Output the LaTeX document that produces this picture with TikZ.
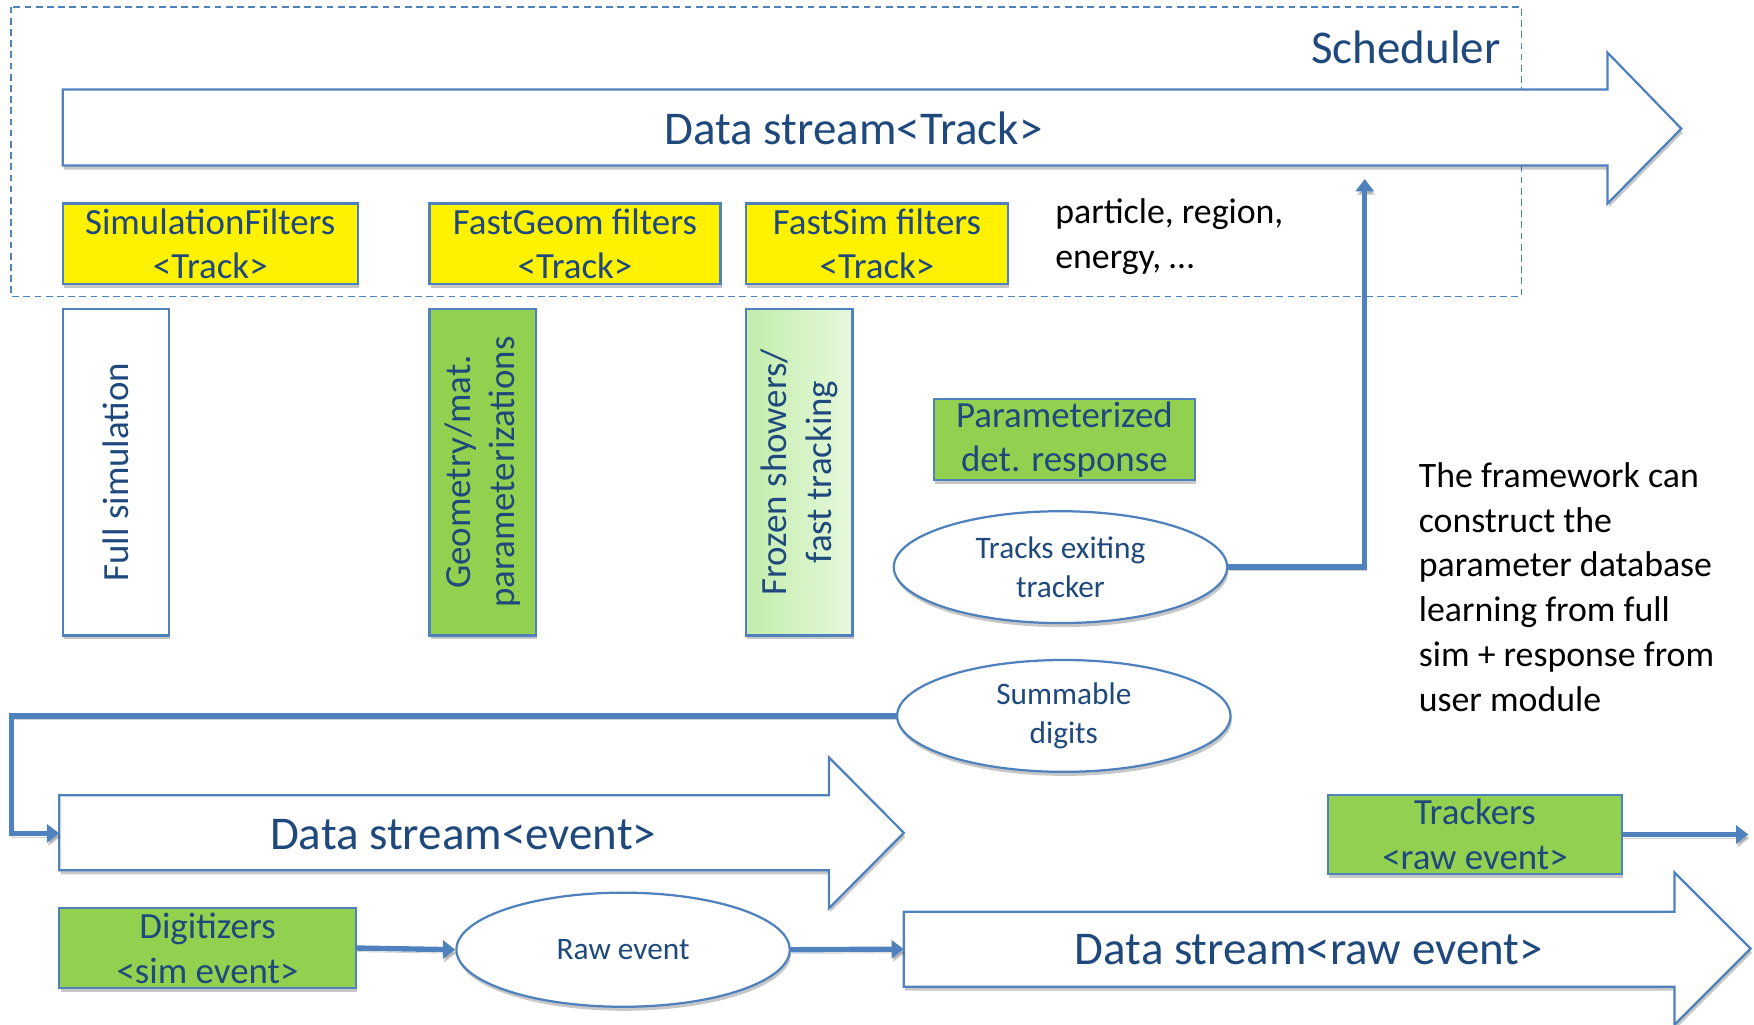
\documentclass[tikz,border=0pt]{standalone}
\usepackage{fontspec}
\setmainfont{Carlito}
\usetikzlibrary{arrows.meta,shapes.geometric,shadows}
\definecolor{edgeblue}{HTML}{4F81BD}
\definecolor{textblue}{HTML}{1F497D}
\definecolor{leafgreen}{HTML}{92D050}
\definecolor{paleleft}{HTML}{C2EDAB}
\definecolor{paleright}{HTML}{E6F8DC}
\tikzset{
  softshadow/.style={drop shadow={shadow xshift=0.6pt,shadow yshift=-1.8pt,opacity=0.22,fill=black}},
  boxbase/.style={draw=edgeblue,line width=1pt,text=textblue,align=center,inner sep=0pt,
    font=\fontsize{16.5}{20}\selectfont,softshadow},
  filterbox/.style={boxbase,fill=yellow,minimum height=36pt},
  greenbox/.style={boxbase,fill=leafgreen},
  tallbox/.style={boxbase,minimum width=47.5pt,minimum height=146pt},
  vlabel/.style={rotate=90,align=center,text=textblue,font=\fontsize{16.5}{20}\selectfont},
  oval/.style={ellipse,draw=edgeblue,line width=1pt,fill=white,text=textblue,align=center,
    inner sep=0pt,minimum width=149pt,minimum height=50pt,font=\fontsize{14}{17.5}\selectfont,softshadow},
  blockarrow/.style={draw=edgeblue,line width=1pt,fill=white,line join=miter,softshadow},
  streamlabel/.style={text=textblue,font=\fontsize{21}{25}\selectfont},
  plaintext/.style={align=left,anchor=north west,inner sep=0pt,font=\fontsize{16}{20}\selectfont},
  conn/.style={draw=edgeblue,line width=2.4pt,-{Triangle[width=8pt,length=5.5pt]},
    preaction={draw=black,opacity=0.18,transform canvas={xshift=0.6pt,yshift=-1.6pt}}}
}
\begin{document}
\begin{tikzpicture}[x=0.5pt,y=-0.5pt]
\useasboundingbox (0,0) rectangle (1568,916);

% scheduler frame
\draw[edgeblue,line width=0.75pt,dash pattern=on 3pt off 2pt] (10,6) rectangle (1360,265);
\node[streamlabel,anchor=east,inner sep=0pt] (sched) at (1342,42) {Scheduler};

% track stream
\draw[blockarrow] (56,80) -- (1437,80) -- (1437,47) -- (1503,115) -- (1437,182) -- (1437,148) -- (56,148) -- cycle;
\node[streamlabel] (trackstream) at (763,115) {Data stream<Track>};

% filters
\node[filterbox,minimum width=132pt] (simf) at (188,218) {SimulationFilters\\<Track>};
\node[filterbox,minimum width=130pt] (geomf) at (514,218) {FastGeom filters\\<Track>};
\node[filterbox,minimum width=117pt] (fastf) at (784,218) {FastSim filters\\<Track>};
\node[plaintext] (criteria) at (943,177) {particle, region,\\energy, \dots};

% simulation flavours
\node[tallbox,fill=white] (fullsim) at (103.5,422) {};
\node[vlabel] (fullsimtext) at (fullsim.center) {Full simulation};
\node[tallbox,fill=leafgreen] (geompar) at (431.5,422) {};
\node[vlabel] (geompartext) at (geompar.center) {Geometry/mat.\\parameterizations};
\node[tallbox,left color=paleleft,right color=paleright] (frozen) at (714.5,422) {};
\node[vlabel] (frozentext) at (frozen.center) {Frozen showers/\\fast tracking};

\node[greenbox,minimum width=116.5pt,minimum height=36pt] (detresp) at (951.5,393) {Parameterized\\det. response};
\node[oval] (tracks) at (948,507) {Tracks exiting\\tracker};
\node[oval] (summ) at (951,640) {Summable\\digits};

\node[plaintext] (note) at (1268,413) {The framework can\\construct the\\parameter database\\learning from full\\sim + response from\\user module};

% event stream
\draw[blockarrow] (53,711) -- (741,711) -- (741,677) -- (808,744.5) -- (741,812) -- (741,778) -- (53,778) -- cycle;
\node[streamlabel] (eventstream) at (414,746) {Data stream<event>};
\coordinate (eventin) at (53,745);

% raw event stream
\draw[blockarrow] (808,815) -- (1497,815) -- (1497,780) -- (1565,848) -- (1497,916) -- (1497,882) -- (808,882) -- cycle;
\node[streamlabel] (rawstream) at (1170,849) {Data stream<raw event>};
\coordinate (rawin) at (808,848.5);

\node[greenbox,minimum width=131.5pt,minimum height=35pt] (trackers) at (1318.5,746) {Trackers\\<raw event>};
\node[greenbox,minimum width=132.5pt,minimum height=35.5pt] (digit) at (185.5,847.5) {Digitizers\\<sim event>};
\node[oval,minimum height=51pt] (raw) at (557,849) {Raw event};

% connectors
\coordinate (trackup) at (1220,160);
\coordinate (loopcorner) at (10,640);
\coordinate (trackout) at (1563,746);
\draw[conn] (tracks.east) -| (trackup);
\draw[conn] (summ.west) -- (loopcorner) |- (eventin);
\draw[conn] (digit.east) -- (raw.west);
\draw[conn] (raw.east) -- (rawin);
\draw[conn] (trackers.east) -- (trackout);
\end{tikzpicture}
\end{document}
